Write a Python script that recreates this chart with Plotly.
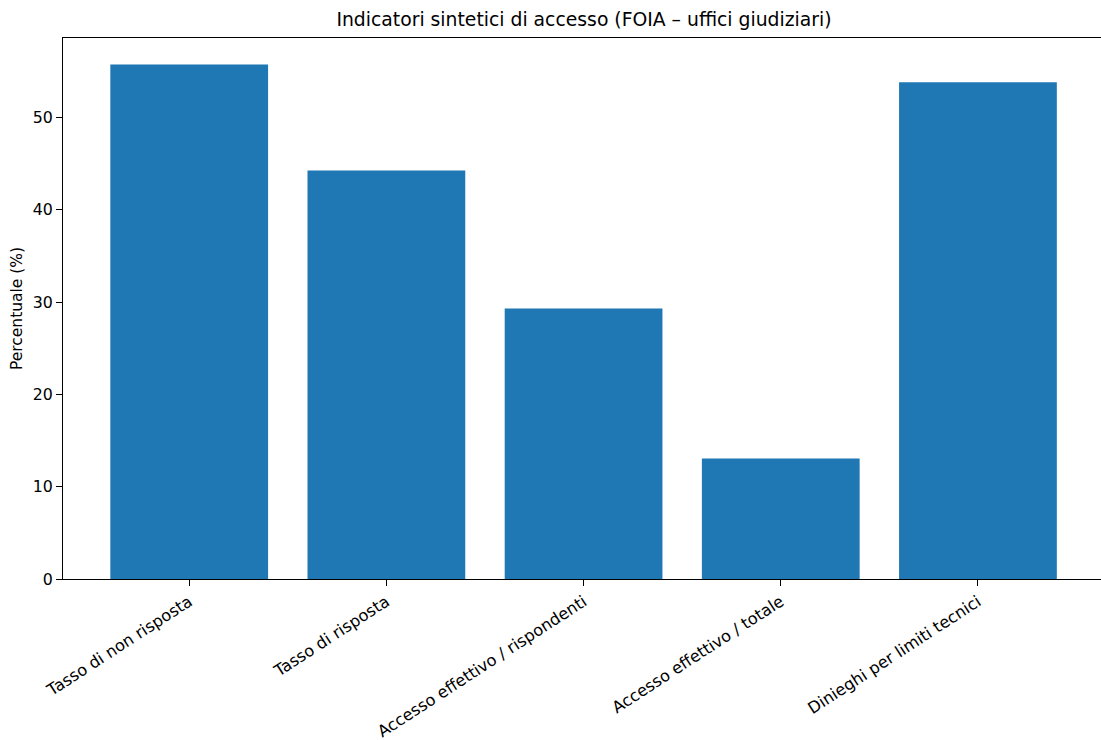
import plotly.graph_objects as go

categories = [
    "Tasso di non risposta",
    "Tasso di risposta",
    "Accesso effettivo / rispondenti",
    "Accesso effettivo / totale",
    "Dinieghi per limiti tecnici",
]
values = [55.74, 44.26, 29.3, 13.05, 53.8]
y_ticks = [0, 10, 20, 30, 40, 50]

title_text = "Indicatori sintetici di accesso (FOIA – uffici giudiziari)"
y_title = "Percentuale (%)"

fig = go.Figure(
    go.Bar(
        x=list(range(len(categories))),
        y=values,
        width=0.8,
        marker=dict(color="#1f77b4", line=dict(width=0)),
        hoverinfo="skip",
    )
)

font_family = "DejaVu Sans"
fig.update_layout(
    width=1101,
    height=740,
    margin=dict(l=63, r=0, t=38, b=161),
    paper_bgcolor="white",
    plot_bgcolor="white",
    showlegend=False,
    font=dict(family=font_family, color="black", size=15),
    title=dict(
        text=title_text,
        x=584 / 1101,
        xanchor="center",
        y=1 - 19 / 740,
        yanchor="middle",
        font=dict(size=18.8, family=font_family, color="black"),
    ),
)

fig.update_xaxes(
    range=[-0.64, 4.624],
    tickmode="array",
    tickvals=list(range(len(categories))),
    ticktext=categories,
    tickangle=-33,
    ticks="outside",
    ticklen=6,
    tickwidth=1,
    tickcolor="black",
    showline=True,
    linecolor="black",
    linewidth=1.2,
    mirror=True,
    showgrid=False,
    zeroline=False,
    tickfont=dict(size=16.2, family=font_family, color="black"),
)
fig.update_yaxes(
    range=[0, 58.6],
    tickmode="array",
    tickvals=y_ticks,
    ticks="outside",
    ticklen=6,
    tickwidth=1,
    tickcolor="black",
    showline=True,
    linecolor="black",
    linewidth=1.2,
    showgrid=False,
    zeroline=False,
    tickfont=dict(size=15.8, family=font_family, color="black"),
    title=dict(text=y_title, font=dict(size=15.5, family=font_family, color="black"), standoff=6),
)

fig.write_html(
    "out.html",
    config={"displayModeBar": False},
    post_script="document.body.style.margin='0';document.body.style.overflow='hidden';",
)
